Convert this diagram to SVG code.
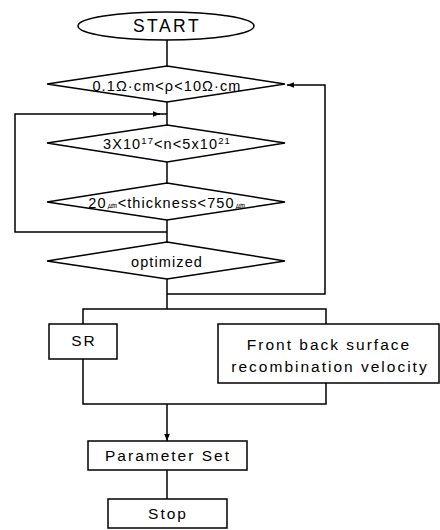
<svg xmlns="http://www.w3.org/2000/svg" width="440" height="530" viewBox="0 0 440 530">
  <style>
    .shape { fill: #fff; stroke: #000; stroke-width: 1.5; }
    .line { fill: none; stroke: #000; stroke-width: 1.5; }
    text { font-family: "Liberation Sans", Arial, sans-serif; fill: #000; text-anchor: middle; }
    .t-start { font-size: 17.5px; letter-spacing: 2.5px; }
    .t-cond { font-size: 14.5px; letter-spacing: 1.1px; }
    .t-box { font-size: 15.5px; letter-spacing: 2px; }
  </style>
  <defs>
    <marker id="arrow" viewBox="0 0 10 10" refX="10" refY="5" markerWidth="7" markerHeight="7" orient="auto" markerUnits="userSpaceOnUse">
      <path d="M0,1 L10,5 L0,9 z" fill="#000"/>
    </marker>
  </defs>

  <g id="connectors">
    <!-- main spine -->
    <line class="line" x1="167" y1="40" x2="167" y2="66"/>
    <line class="line" x1="167" y1="102" x2="167" y2="125"/>
    <line class="line" x1="167" y1="162" x2="167" y2="183"/>
    <line class="line" x1="167" y1="220" x2="167" y2="242"/>
    <line class="line" x1="167" y1="279" x2="167" y2="309"/>
    <!-- inner loop back to carrier-density check -->
    <polyline class="line" points="167,232 15,232 15,114 160,114" marker-end="url(#arrow)"/>
    <line class="line" x1="158" y1="114" x2="167" y2="114"/>
    <!-- outer loop back to resistivity check -->
    <polyline class="line" points="167,294 325,294 325,85 287,85" marker-end="url(#arrow)"/>
    <!-- split to parallel blocks -->
    <polyline class="line" points="83,324 83,309 326,309 326,324"/>
    <polyline class="line" points="83,359 83,404 326,404 326,383"/>
    <line class="line" x1="167" y1="404" x2="167" y2="441" marker-end="url(#arrow)"/>
    <line class="line" x1="167" y1="470" x2="167" y2="499"/>
  </g>

  <g id="start">
    <ellipse class="shape" cx="166" cy="26" rx="88" ry="14"/>
    <text class="t-start" x="167" y="32">START</text>
  </g>

  <g id="resistivity">
    <polygon class="shape" points="167,66 285,84 167,102 47,84"/>
    <text class="t-cond" x="167" y="91">0.1Ω·cm&lt;ρ&lt;10Ω·cm</text>
  </g>

  <g id="carrier-density">
    <polygon class="shape" points="167,125 285,143 167,162 47,143"/>
    <text class="t-cond" x="167" y="149">3X10<tspan font-size="9.5" dy="-5">17</tspan><tspan dy="5">&lt;n&lt;5x10</tspan><tspan font-size="9.5" dy="-5">21</tspan></text>
  </g>

  <g id="thickness">
    <polygon class="shape" points="167,183 285,202 167,220 47,202"/>
    <text class="t-cond" x="167" y="208">20<tspan font-size="10">㎛</tspan>&lt;thickness&lt;750<tspan font-size="10">㎛</tspan></text>
  </g>

  <g id="optimized">
    <polygon class="shape" points="167,242 285,261 167,279 47,261"/>
    <text class="t-cond" x="167" y="267" letter-spacing="1.6">optimized</text>
  </g>

  <g id="sr">
    <rect class="shape" x="49" y="324" width="68" height="35"/>
    <text class="t-box" x="84" y="346">SR</text>
  </g>

  <g id="surface-recombination">
    <rect class="shape" x="218" y="324" width="221" height="59"/>
    <text class="t-box" x="329" y="350">Front back surface</text>
    <text class="t-box" x="330" y="372">recombination velocity</text>
  </g>

  <g id="parameter-set">
    <rect class="shape" x="88" y="441" width="159" height="29"/>
    <text class="t-box" x="168" y="461">Parameter Set</text>
  </g>

  <g id="stop">
    <rect class="shape" x="108" y="499" width="119" height="29"/>
    <text class="t-box" x="168" y="519">Stop</text>
  </g>
</svg>
